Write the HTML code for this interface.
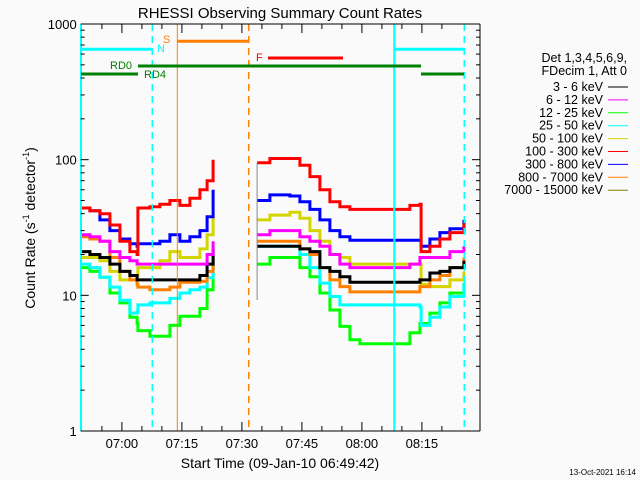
<!DOCTYPE html>
<html><head><meta charset="utf-8"><style>
html,body{margin:0;padding:0;background:#fafafa;}
svg{display:block;font-family:"Liberation Sans","DejaVu Sans",sans-serif;}
</style></head><body>
<svg id="chart" width="640" height="480" viewBox="0 0 640 480">
<rect width="640" height="480" fill="#fafafa"/>
<text x="280" y="18" font-size="15" text-anchor="middle" fill="#000">RHESSI Observing Summary Count Rates</text>
<g id="series"></g>
<g id="overlay"></g>
<g id="axes"></g>
<text x="280" y="468" font-size="14" text-anchor="middle">Start Time (09-Jan-10 06:49:42)</text>
<text transform="translate(35,228) rotate(-90)" font-size="14" text-anchor="middle">Count Rate (s<tspan font-size="9" dy="-6">-1</tspan><tspan dy="6"> detector</tspan><tspan font-size="9" dy="-6">-1</tspan><tspan dy="6">)</tspan></text>
<text x="636" y="475" font-size="8" text-anchor="end">13-Oct-2021 16:14</text>
<g id="legend">
<text x="627" y="62" font-size="12.5" text-anchor="end">Det 1,3,4,5,6,9,</text>
<text x="627" y="75" font-size="12.5" text-anchor="end">FDecim 1, Att 0</text>
</g>
</svg>
<script>
// Time samples in minutes since 06:49:42
const times1 = [0.1,2.3,4.8,7.3,9.8,12.3,14.1,14.3,17.3,19.8,22.3,24.8,27.3,29.8,31.6,33.1];
const times2 = [44.1,47.3,52.3,54.8,57.3,59.8,62.3,64.8,67.3,69.8,74.8,79.8,82.3,84.8,85.1,87.3,89.8,92.3,95.8];
const bandLabels = ["3 - 6 keV","6 - 12 keV","12 - 25 keV","25 - 50 keV","50 - 100 keV","100 - 300 keV","300 - 800 keV","800 - 7000 keV","7000 - 15000 keV"];
const bandColors = ["#000000","#ff00ff","#00ff00","#00ffff","#d4d400","#ff0000","#0000ff","#ff8000","#808000"];
const green1 = [16,15,13.6,10.4,8.8,6.9,6.2,5.5,5,5,6,7,7,8,11,18];
const cyan1 = [17,16,13.6,11.5,9.2,7.4,7.5,8.5,8.8,8.8,9.5,10.4,11,11.5,13.5,23];
const yellow1 = [19,19,18,15,13,13,14,16,16,18,21,19,19,22,28,40];
const orange1 = [27,26,25,19,15,13,12,11.5,11,11,11.5,12.5,12.5,12.7,15,20];
const black1 = [21,20,19,17,15,14,13,13,13,13,13,13,13,14,17,22];
const magenta1 = [28,27,25,21,19,18,17,17,17,17,17,17,17,17,20,25];
const blue1 = [44,42,36,30,26,24,23,24,24,25,28,25,27,30,38,60];
const red1 = [44,42,40,33,25,21,20,44,45,47,50,46,52,60,70,100];
const green2 = [17,19,19,16,13.7,10.4,7.8,5.9,4.7,4.4,4.4,4.4,5.3,6.2,6.2,7.4,8.8,10.4,12.3];
const cyan2 = [23,23,23,20,16,12.3,9.8,8.5,8.5,8.5,8.5,8.5,8.5,8.2,6,6.9,8.2,9.8,12.3];
const yellow2 = [36,39,41,37,30,25,20,19,17,17,17,17,17,17,12,11.6,11.6,13,15];
const orange2 = [25,25,25,22,20,16,13,11.6,10.6,10.6,10.6,10.6,10.6,11.6,11.6,13,14,16,19];
const black2 = [23,23,23,22,21,16,15,13.7,12.5,12.5,12.5,12.5,12.5,13,13,14.6,15,16,18];
const magenta2 = [28,30,30,27,25,23,20,17,16,16,16,16,17,19,19,19,19,21,23];
const blue2 = [50,55,54,49,43,36,30,27,25.5,25.5,25.5,25.5,25.5,25.5,23,26,29,31,36];
const red2 = [95,102,102,91,75,60,49,45,43,43,43,43,46,47,21,23,26,29,34];
const xTickLabels = ["07:00","07:15","07:30","07:45","08:00","08:15"];
const xTickMinutes = [10.3,25.3,40.3,55.3,70.3,85.3];
const yTickValues = [1,10,100,1000];

const NS="http://www.w3.org/2000/svg";
const L=80.7,R=480,T=24,B=431;
function X(t){return L+4*t;}
function Y(v){return B-(Math.log10(v))*(B-T)/3;}
function mk(tag,attrs,parent){const e=document.createElementNS(NS,tag);for(const k in attrs)e.setAttribute(k,attrs[k]);parent.appendChild(e);return e;}
const sg=document.getElementById('series');
function stepPath(ts,vs){let d="";for(let i=0;i<ts.length;i++){const x=X(ts[i]).toFixed(1),y=Y(vs[i]).toFixed(1);if(i===0)d+="M"+x+" "+y;else d+=" H"+x+" V"+y;}return d;}
const draws=[["green",green1,green2,"#00ff00"],["cyan",cyan1,cyan2,"#00ffff"],["yellow",yellow1,yellow2,"#d4d400"],["orange",orange1,orange2,"#ff8000"],["black",black1,black2,"#000000"],["magenta",magenta1,magenta2,"#ff00ff"],["blue",blue1,blue2,"#0000ff"],["red",red1,red2,"#ff0000"]];
for(const [nm,a,b,c] of draws){
  const p1=mk('path',{d:stepPath(times1,a),fill:"none",stroke:c,"stroke-width":3},sg);
  
  
  const p2=mk('path',{d:stepPath(times2,b),fill:"none",stroke:c,"stroke-width":3},sg);
  
  
}
const ov=document.getElementById('overlay');
function ln(x1,y1,x2,y2,c,w,dash,name){const e=mk('line',{x1,y1,x2,y2,stroke:c,"stroke-width":w},ov);if(dash)e.setAttribute('stroke-dasharray',dash);

}
ln(X(times2[0]),Y(95),X(times2[0]),300,"#888",1,null,"gap-end-line");
ln(81,T,81,B,"#00ffff",2,null,"cyan-solid-line-1");
ln(394.3,T,394.3,B,"#00ffff",2,null,"cyan-solid-line-2");
ln(152.3,T,152.3,B,"#00ffff",1.5,"7,5","cyan-dashed-line-1");
ln(464.3,T,464.3,B,"#00ffff",1.5,"7,5","cyan-dashed-line-2");
ln(177.3,T,177.3,B,"#ff8000",1,null,"orange-solid-line");
ln(248.7,T,248.7,B,"#ff8000",1.5,"7,5","orange-dashed-line");
ln(81,49.3,152.3,49.3,"#00ffff",3,null,"cyan-bar-1");
ln(394.3,49.3,464.3,49.3,"#00ffff",3,null,"cyan-bar-2");
ln(177.3,41.3,248.7,41.3,"#ff8000",3,null,"s-bar");
ln(268,58,343,58,"#ff0000",3,null,"f-bar");
ln(138,66,421,66,"#008000",3,null,"rd0-bar");
ln(81,74,138,74,"#008000",3,null,"rd4-bar-1");
ln(421,74,464,74,"#008000",3,null,"rd4-bar-2");
function tx(x,y,s,c,name,anchor,fs){const e=mk('text',{x,y,fill:c,"font-size":fs||11,"text-anchor":anchor||"start"},ov);e.textContent=s;

}
tx(163,43,"S","#ff8000","s-label");
tx(157,52,"N","#00ffff","n-label");
tx(256,61,"F","#ff0000","f-label");
tx(110,69,"RD0","#008000","rd0-label");
tx(144,78,"RD4","#008000","rd4-label");
// axes
const ax=document.getElementById('axes');
function al(x1,y1,x2,y2,name){const e=mk('line',{x1,y1,x2,y2,stroke:"#000","stroke-width":1},ax);

}
al(L,B,R,B,"x-axis");al(L,T,R,T,"x-axis-top");al(R,T,R,B,"y-axis-right");
for(let m=0;m<=90;m+=5){const t=m+0.3;const x=X(t);if(x>R)break;const major=(m%15===10);
 if(m===0) continue;
 const len=major?9:5;al(x,B,x,B-len,"x-tick");al(x,T,x,T+len,"x-tick-top");}
for(let i=0;i<xTickLabels.length;i++){const e=mk('text',{x:X(xTickMinutes[i]),y:B+17,"font-size":13,"text-anchor":"middle"},ax);e.textContent=xTickLabels[i];

}
for(let d=0;d<3;d++){for(let k=1;k<=9;k++){const v=k*Math.pow(10,d);const y=Y(v);const len=k===1?8:4;al(L,y,L+len,y,"y-tick");al(R,y,R-len,y,"y-tick-right");}}
al(R,T,R-8,T,"y-tick-right");
for(const v of yTickValues){const e=mk('text',{x:L-4,y:Y(v)+5,"font-size":13,"text-anchor":"end"},ax);e.textContent=String(v);

}
// legend
const lg=document.getElementById('legend');
for(let i=0;i<bandLabels.length;i++){const y=87+i*12.9;
 const t=mk('text',{x:603,y:y+4,"font-size":12.5,"text-anchor":"end"},lg);t.textContent=bandLabels[i];
 
 
 const l=mk('line',{x1:608,y1:y,x2:628,y2:y,stroke:bandColors[i],"stroke-width":1},lg);
 
 }
</script>
</body></html>
